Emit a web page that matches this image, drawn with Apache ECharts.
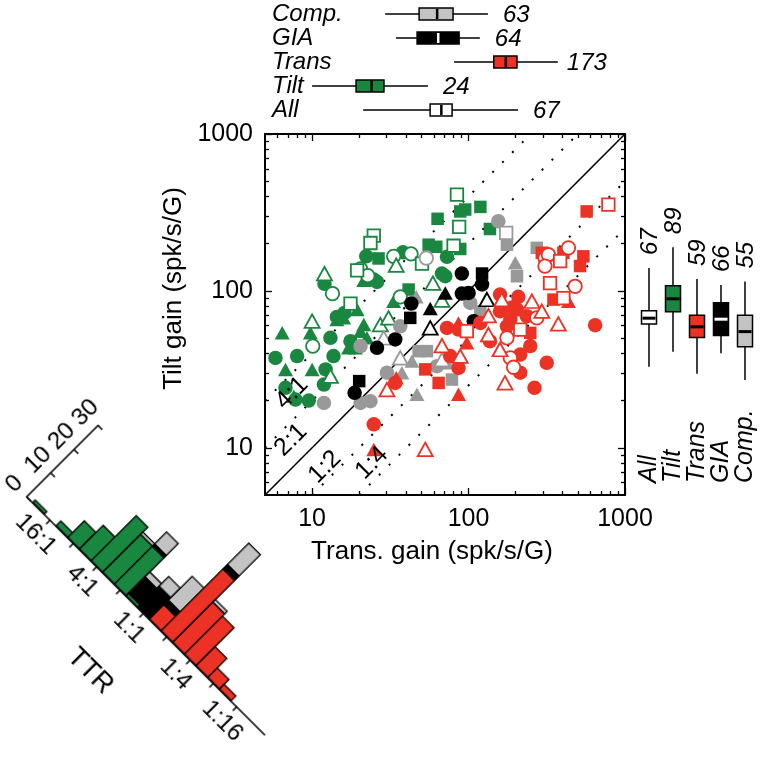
<!DOCTYPE html>
<html><head><meta charset="utf-8">
<script src="https://cdn.jsdelivr.net/npm/echarts@6/dist/echarts.min.js"></script>
<style>
html,body{margin:0;padding:0;background:#fff;}
#main{position:absolute;left:0;top:0;width:764px;height:761px;}
#hist{position:absolute;left:-33.3px;top:336.2px;width:460px;height:280px;transform-origin:60px 160.5px;transform:rotate(45deg);}
</style></head><body>
<div id="main"></div><div id="hist"></div>
<script>
// ---------------- DATA ----------------
// scatter: [Trans gain, Tilt gain]
const greenOpenSquare = [[84.3,411],[24.8,225],[23.6,202],[87.1,256],[80.2,194],[50.4,149],[19.4,135],[17.6,83]];
const greenSquare = [[63.4,288],[88.5,321],[95.2,330],[119,343],[137,248],[55.6,197],[62.2,191],[88.5,185],[26.6,161],[41.4,102]];
const greenCircle = [[22.2,166],[38.1,176],[72.8,165],[26.0,114],[24.8,118],[12.0,111],[67.6,129],[71.0,124],[16.1,72.4],[14.4,68.2],[13.1,50.2],[17.6,47.8],[5.83,37.4],[8.02,38.4],[13.7,38.4],[12.2,31.6],[11.9,25.3],[6.76,24.1],[9.52,20.0],[7.83,20.3]];
const greenOpenCircle = [[33.2,166],[42.9,172],[20.4,138],[22.7,125],[13.5,96.2],[36.6,91.6],[10.1,44.5]];
const greenTri = [[21.4,117],[33.2,85.9],[19.4,76],[14.4,65.6],[15.9,67.3],[9.75,54],[6.44,54],[21.4,61],[20.4,55.4],[22.4,50.2],[17.1,43.4],[18.9,43.4],[6.76,31.6],[10,31.6],[7.64,21.3]];
const greenOpenTri = [[34.5,146],[12.0,129],[59.2,112],[67.6,87.3],[10,64.1],[27.3,61],[30.8,67.3],[13.1,28.6]];

const redSquare = [[569,321],[294,175],[404,175],[542,166],[516,144],[349,88],[248,54],[52.9,31.6],[64.4,25.9]];
const redOpenSquare = [[783,355],[385,155],[332,112],[404,90],[214,56.7],[97.5,55.4]];
const redCircle = [[644,60.4],[316,34.8],[264,24.1],[214,30.1],[214,39.3],[248,44.5],[137,47.8],[86.3,32.3],[159,94.8],[208,91.6],[204,76],[185,65.6],[72.8,58.1],[24.8,14.1],[34,25.9],[119,62.5],[176,59.5],[236,69],[76.4,38.4],[159,74.2],[190,78.5],[86.3,56.7]];
const redOpenCircle = [[308,162],[324,170],[435,188],[308,144],[480,107],[176,50.2],[185,37.4],[194,32.6],[273,67.3]];
const redTri = [[435,85.9],[86.3,21.9],[24.8,9.76],[86.3,62.5],[97.5,46.7],[34.5,27.9]];
const redOpenTri = [[375,61.6],[171,25.9],[159,42.3],[134,52.7],[88.5,38.4],[67.6,44.8],[30.1,23.5],[52.9,9.76],[163,88.1],[254,85.9],[294,74.2],[134,69.5]];

const blackCircle = [[90.6,129],[122,110],[90.6,96.2],[100,97.1],[43.1,83],[34,49],[26,43.4],[18.7,22.4],[108,64.1]];
const blackSquare = [[122,129],[42.4,67.3],[20,26.6]];
const blackTri = [[71,97.1],[56.9,77.1]];
const blackOpenTri = [[131,88.1],[56.9,58.1]];

const grayCircle = [[155,278],[36.6,59.5],[20.4,44.5],[11.9,19.3],[20.4,19.3],[23.6,19.8],[30.1,30.1],[102.5,83.8],[62.8,33.1]];
const grayOpenCircle = [[53.7,162]];
const grayOpenSquare = [[174,234]];
const graySquare = [[176,197],[273,188],[204,124],[48,41.3],[54.2,41.3],[78.3,27.2],[119,74.2]];
const grayTri = [[199,151],[46.3,91.6],[46.8,21.9],[43.5,35.7],[37.5,30.1],[72.8,34.8]];
const grayOpenTri = [[28.7,50.2],[36.6,37.4],[67.6,36.5]];

// reference ratio lines (Tilt:Trans)
const refRatios = [4, 2, 0.5, 0.25];
const refLabels = ['4:1', '2:1', '1:2', '1:4'];

// axis ticks
const majorTicks = [10, 100, 1000];
const minorTicks = [6,7,8,9,20,30,40,50,60,70,80,90,200,300,400,500,600,700,800,900];

// top box plots (Trans gain)
const topCats = ['Comp.', 'GIA', 'Trans', 'Tilt', 'All'];
const xLo  = [29.3, 34.4, 80.8, 10.0, 21.2];
const xQ1  = [48.3, 46.9, 145, 19.1, 56.8];
const xMed = [63, 64, 173, 24, 67];
const xQ3  = [79.6, 87, 204, 28.8, 78.5];
const xHi  = [133, 118, 372, 55, 207];

// right box plots (Tilt gain)
const rightCats = ['All', 'Tilt', 'Trans', 'GIA', 'Comp.'];
const yLo  = [32.8, 41, 29.6, 40, 27];
const yQ1  = [61.6, 73.5, 50.4, 52, 44];
const yMed = [67, 89, 59, 66, 55];
const yQ3  = [74.6, 108, 70, 84, 70];
const yHi  = [140, 190, 119, 109, 114.6];

// TTR histogram (bin centres in log2 of Tilt/Trans)
const ttrBins  = [4.5, 4, 3.5, 3, 2.5, 2, 1.5, 1, 0.5, 0, -0.5, -1, -1.5, -2, -2.5, -3, -3.5];
const histTilt  = [1, 0, 2, 7, 10, 19, 16, 16, 1, 0, 0, 0, 0, 0, 0, 0, 0];
const histTrans = [0, 0, 0, 0, 0, 0, 0, 0, 0, 0, 6, 26, 17, 16, 8, 4, 2];
const histGIA   = [0, 0, 0, 0, 0, 0, 0, 1, 7, 9, 2, 2, 0, 0, 0, 0, 0];
const histComp  = [0, 0, 0, 0, 0, 0, 1, 5, 2, 4, 10, 9, 1, 0, 0, 0, 0];
const ttrTicks = [4, 3, 2, 1, 0, -1, -2, -3, -4];
const ttrLabelTicks = [4, 2, 0, -2, -4];
const countTicksMax = 30;

// ---------------- STYLE ----------------
const FONT = '"Liberation Sans", Arial, Helvetica, sans-serif';
const GREEN = '#1a8741', RED = '#ec3224', GRAYPT = '#999999', GRAYBOX = '#c3c3c3', BLACK = '#000000';
const L5 = Math.log10(5), L1000 = 3;

function ovAxis(pos, vals, len, withLabels, extra) {
  const a = {
    type: 'value', gridIndex: 0, position: pos, min: L5, max: L1000,
    axisLine: {show: true, onZero: false, lineStyle: {color: '#000', width: 2}},
    axisTick: {show: true, inside: true, length: len, customValues: vals.map(Math.log10), lineStyle: {color: '#000', width: 1.3}},
    axisLabel: withLabels ? {show: true, customValues: vals.map(Math.log10),
      formatter: v => String(Math.round(Math.pow(10, v))), fontSize: 25, fontFamily: FONT, color: '#000', margin: 12} : {show: false},
    splitLine: {show: false}, silent: true
  };
  return Object.assign(a, extra || {});
}

function pts(data, color, symbol, open, size) {
  return {
    type: 'scatter', xAxisIndex: 0, yAxisIndex: 0, data: data, symbol: symbol, symbolSize: size,
    itemStyle: open ? {color: '#ffffff', borderColor: color, borderWidth: 1.8, opacity: 1} : {color: color, borderWidth: 0, opacity: 1},
    emphasis: {disabled: true}, silent: true, z: 3
  };
}

function ratioLine(r) {
  const x0 = Math.max(5, 5 / r), x1 = Math.min(1000, 1000 / r);
  return [[x0, r * x0], [x1, r * x1]];
}

const topFill = [GRAYBOX, BLACK, RED, GREEN, '#ffffff'];
const topMedCol = ['#000', '#fff', '#000', '#000', '#000'];
const rightFill = ['#ffffff', GREEN, RED, BLACK, GRAYBOX];
const rightMedCol = ['#000', '#000', '#000', '#fff', '#000'];

const CIRC = 14.5, SQ = 12.5, TRI = [15, 13.5];

const series = [
  {type: 'line', xAxisIndex: 0, yAxisIndex: 0, data: [[5,5],[1000,1000]], showSymbol: false, symbol: 'none', silent: true,
   lineStyle: {color: '#000', width: 1.6}, z: 2},
];
refRatios.forEach(r => series.push({type: 'line', xAxisIndex: 0, yAxisIndex: 0, data: ratioLine(r), symbol: 'none', silent: true,
   lineStyle: {color: '#000', width: 2, type: [2, 12]}, z: 2}));

series.push(
  pts(greenCircle, GREEN, 'circle', false, CIRC),
  pts(greenTri, GREEN, 'triangle', false, TRI),
  pts(greenSquare, GREEN, 'rect', false, SQ),
  pts(greenOpenCircle, GREEN, 'circle', true, CIRC - 1),
  pts(greenOpenTri, GREEN, 'triangle', true, TRI),
  pts(greenOpenSquare, GREEN, 'rect', true, SQ),
  pts(grayCircle, GRAYPT, 'circle', false, CIRC),
  pts(grayTri, GRAYPT, 'triangle', false, TRI),
  pts(graySquare, GRAYPT, 'rect', false, SQ),
  pts(grayOpenCircle, GRAYPT, 'circle', true, CIRC - 1),
  pts(grayOpenTri, GRAYPT, 'triangle', true, TRI),
  pts(grayOpenSquare, GRAYPT, 'rect', true, SQ),
  pts(blackCircle, BLACK, 'circle', false, CIRC),
  pts(blackTri, BLACK, 'triangle', false, TRI),
  pts(blackSquare, BLACK, 'rect', false, SQ),
  pts(blackOpenTri, BLACK, 'triangle', true, TRI),
  pts(redCircle, RED, 'circle', false, CIRC),
  pts(redTri, RED, 'triangle', false, TRI),
  pts(redSquare, RED, 'rect', false, SQ),
  pts(redOpenCircle, RED, 'circle', true, CIRC - 1),
  pts(redOpenTri, RED, 'triangle', true, TRI),
  pts(redOpenSquare, RED, 'rect', true, SQ)
);

// top box plots
series.push({
  type: 'custom', xAxisIndex: 5, yAxisIndex: 5, silent: true,
  data: topCats.map((c, i) => [i, xLo[i], xQ1[i], xMed[i], xQ3[i], xHi[i]]),
  encode: {x: [1, 2, 3, 4, 5], y: 0},
  renderItem: function (params, api) {
    const i = api.value(0);
    const p = v => api.coord([v, i]);
    const lo = p(api.value(1)), q1 = p(api.value(2)), md = p(api.value(3)), q3 = p(api.value(4)), hi = p(api.value(5));
    const y = lo[1], h = 12;
    return {type: 'group', children: [
      {type: 'line', shape: {x1: lo[0], y1: y, x2: hi[0], y2: y}, style: {stroke: '#000', lineWidth: 1.5}},
      {type: 'rect', shape: {x: q1[0], y: y - h / 2, width: q3[0] - q1[0], height: h}, style: {fill: topFill[i], stroke: '#000', lineWidth: 1.5}},
      {type: 'line', shape: {x1: md[0], y1: y - h / 2 + 1, x2: md[0], y2: y + h / 2 - 1}, style: {stroke: topMedCol[i], lineWidth: 2.5}},
      {type: 'text', x: hi[0] + (i === 2 ? 9 : 15), y: y + 1, style: {text: String(xMed[i]), font: 'italic 24px ' + FONT, fill: '#000', align: 'left', verticalAlign: 'middle'}}
    ]};
  }
});

// right box plots
series.push({
  type: 'custom', xAxisIndex: 6, yAxisIndex: 6, silent: true,
  data: rightCats.map((c, i) => [i, yLo[i], yQ1[i], yMed[i], yQ3[i], yHi[i]]),
  encode: {x: 0, y: [1, 2, 3, 4, 5]},
  renderItem: function (params, api) {
    const i = api.value(0);
    const p = v => api.coord([i, v]);
    const lo = p(api.value(1)), q1 = p(api.value(2)), md = p(api.value(3)), q3 = p(api.value(4)), hi = p(api.value(5));
    const x = lo[0], w = 15;
    return {type: 'group', children: [
      {type: 'line', shape: {x1: x, y1: lo[1], x2: x, y2: hi[1]}, style: {stroke: '#000', lineWidth: 1.5}},
      {type: 'rect', shape: {x: x - w / 2, y: q3[1], width: w, height: q1[1] - q3[1]}, style: {fill: rightFill[i], stroke: '#000', lineWidth: 1.5}},
      {type: 'line', shape: {x1: x - w / 2 + 1, y1: md[1], x2: x + w / 2 - 1, y2: md[1]}, style: {stroke: rightMedCol[i], lineWidth: 3}},
      {type: 'text', x: x + 1, y: hi[1] - 13, rotation: Math.PI / 2, style: {text: String(yMed[i]), font: 'italic 24px ' + FONT, fill: '#000', align: 'left', verticalAlign: 'middle'}}
    ]};
  }
});

// ratio line labels
const refLabelPos = [[292, 393], [291, 440], [325, 467], [372, 463]];
const graphic = refLabels.map((t, i) => ({
  type: 'text', x: refLabelPos[i][0], y: refLabelPos[i][1], rotation: Math.PI / 4, silent: true, zlevel: 1, z: 100,
  style: {text: t, font: '25px ' + FONT, fill: '#000', align: 'center', verticalAlign: 'middle'}
}));

const option = {
  animation: false, backgroundColor: '#ffffff',
  grid: [
    {left: 265, top: 134, width: 360, height: 361},
    {left: 265, top: 2, width: 360, height: 120},
    {left: 637, top: 134, width: 120, height: 361}
  ],
  xAxis: [
    {type: 'log', gridIndex: 0, min: 5, max: 1000, show: false},
    ovAxis('bottom', majorTicks, 7, true, {name: 'Trans. gain (spk/s/G)', nameLocation: 'middle', nameGap: 44,
      nameTextStyle: {fontSize: 26, fontFamily: FONT, color: '#000', padding: [0, 26, 0, 0]}}),
    ovAxis('bottom', minorTicks, 4, false),
    ovAxis('top', majorTicks, 7, false),
    ovAxis('top', minorTicks, 4, false),
    {type: 'log', gridIndex: 1, min: 5, max: 1000, show: false},
    {type: 'category', gridIndex: 2, data: rightCats, position: 'bottom',
      axisLine: {show: false}, axisTick: {show: false},
      axisLabel: {inside: true, interval: 0, rotate: 90, margin: 12, fontSize: 25, fontStyle: 'italic', fontFamily: FONT, color: '#000'}}
  ],
  yAxis: [
    {type: 'log', gridIndex: 0, min: 5, max: 1000, show: false},
    ovAxis('left', majorTicks, 7, true, {name: 'Tilt gain (spk/s/G)', nameLocation: 'middle', nameGap: 78,
      nameTextStyle: {fontSize: 26, fontFamily: FONT, color: '#000', padding: [0, 0, 0, 52]}}),
    ovAxis('left', minorTicks, 4, false),
    ovAxis('right', majorTicks, 7, false),
    ovAxis('right', minorTicks, 4, false),
    {type: 'category', gridIndex: 1, data: topCats, inverse: true, position: 'left',
      axisLine: {show: false}, axisTick: {show: false},
      axisLabel: {inside: true, interval: 0, margin: 7, fontSize: 24, fontStyle: 'italic', fontFamily: FONT, color: '#000'}},
    {type: 'log', gridIndex: 2, min: 5, max: 1000, show: false}
  ],
  graphic: graphic,
  series: series
};
const chart = echarts.init(document.getElementById('main'));
chart.setOption(option);

// ---------------- HISTOGRAM (rotated 45 deg) ----------------
const ttrFmt = v => v >= 0 ? Math.round(Math.pow(2, v)) + ':1' : '1:' + Math.round(Math.pow(2, -v));
const histCols = [GREEN, RED, BLACK, GRAYBOX];
const histOption = {
  animation: false,
  grid: {left: 60, top: 60, width: 336.6, height: 100.5},
  xAxis: {type: 'value', min: -5.2, max: 5, inverse: true,
    axisLine: {show: true, onZero: false, lineStyle: {color: '#000', width: 1.5}},
    axisTick: {show: true, inside: false, length: 6, customValues: ttrTicks, lineStyle: {color: '#000', width: 1.5}},
    axisLabel: {customValues: ttrLabelTicks, formatter: ttrFmt, fontSize: 24, fontFamily: FONT, color: '#000', margin: 9},
    splitLine: {show: false},
    name: 'TTR', nameLocation: 'middle', nameGap: 66, nameTextStyle: {fontSize: 27, fontFamily: FONT, color: '#000'}},
  yAxis: {type: 'value', min: 0, max: countTicksMax, interval: 10,
    axisLine: {show: true, onZero: false, lineStyle: {color: '#000', width: 1.5}},
    axisTick: {show: true, inside: true, length: 6, lineStyle: {color: '#000', width: 1.5}},
    axisLabel: {rotate: 90, fontSize: 24, fontFamily: FONT, color: '#000', margin: 6},
    splitLine: {show: false}},
  series: [{
    type: 'custom', silent: true, clip: false,
    data: ttrBins.map((c, i) => [c, histTilt[i], histTrans[i], histGIA[i], histComp[i]]),
    encode: {x: 0, y: 1},
    renderItem: function (params, api) {
      const c = api.value(0);
      const vals = [api.value(1), api.value(2), api.value(3), api.value(4)];
      let base = 0; const children = [];
      for (let k = 0; k < 4; k++) {
        const n = vals[k]; if (!n) continue;
        const p0 = api.coord([Math.min(c + 0.25, 5), base]), p1 = api.coord([c - 0.25, base + n]);
        children.push({type: 'rect', shape: {x: Math.min(p0[0], p1[0]), y: Math.min(p0[1], p1[1]),
          width: Math.abs(p1[0] - p0[0]), height: Math.abs(p1[1] - p0[1])},
          style: {fill: histCols[k], stroke: '#000', lineWidth: 1.3}});
        base += n;
      }
      return {type: 'group', children: children};
    }
  }]
};
const hchart = echarts.init(document.getElementById('hist'));
hchart.setOption(histOption);
</script></body></html>
